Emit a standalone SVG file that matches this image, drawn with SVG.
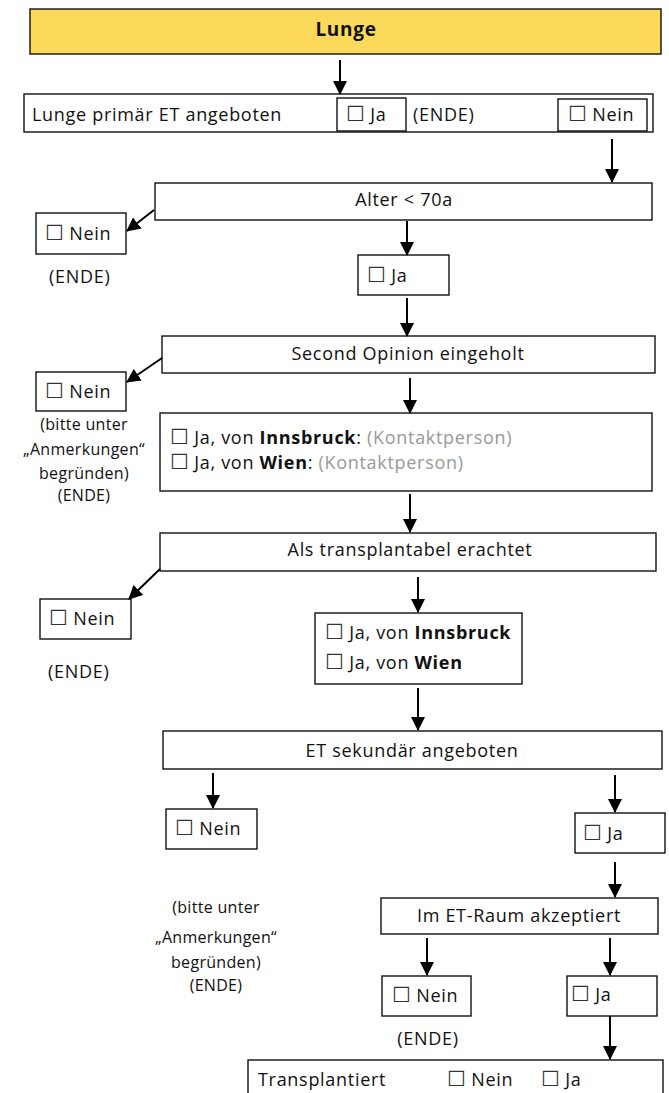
<svg xmlns="http://www.w3.org/2000/svg" width="669" height="1093" viewBox="0 0 669 1093">
<style>
.box{fill:#fff;stroke:#111;stroke-width:1.4}
.title{fill:#FCD95B;stroke:#111;stroke-width:1.4}
text{font-family:"Open Sans","DejaVu Sans",sans-serif;font-size:18px;fill:#111;letter-spacing:0.7px}
.s{font-size:16px;letter-spacing:0.3px}
.c{text-anchor:middle}
.b{font-weight:bold}
.g{fill:#999}
.cb{font-family:"DejaVu Sans",sans-serif;font-size:21px;letter-spacing:0;fill:#333}
#connectors line{stroke:#000;stroke-width:2;marker-end:url(#ah)}
</style>
<defs>
<marker id="ah" markerUnits="userSpaceOnUse" markerWidth="14" markerHeight="14" refX="13" refY="7" orient="auto">
<path d="M0,0 L14,7 L0,14 z" fill="#000"/>
</marker>
</defs>
<g id="n-title"><rect class="title" x="30" y="9" width="631" height="45"/><text class="c b" x="346" y="36" style="font-size:19px">Lunge</text></g>
<g id="n-primaer"><rect class="box" x="24" y="94" width="629" height="38"/><text x="32" y="121">Lunge primär ET angeboten</text>
<rect class="box" x="337" y="98" width="69" height="33"/><text x="346" y="121"><tspan class="cb">☐</tspan> Ja</text>
<text x="413" y="121">(ENDE)</text>
<rect class="box" x="558" y="99" width="89" height="32"/><text x="568" y="121"><tspan class="cb">☐</tspan> Nein</text></g>
<g id="n-alter"><rect class="box" x="155" y="183" width="497" height="37"/><text class="c" x="404" y="206">Alter &lt; 70a</text></g>
<g id="n-alter-nein"><rect class="box" x="36" y="213" width="90" height="41"/><text x="45" y="240"><tspan class="cb">☐</tspan> Nein</text><text x="49" y="283">(ENDE)</text></g>
<g id="n-alter-ja"><rect class="box" x="358" y="255" width="91" height="40"/><text x="367" y="282"><tspan class="cb">☐</tspan> Ja</text></g>
<g id="n-second"><rect class="box" x="162" y="336" width="493" height="37"/><text class="c" x="408" y="360">Second Opinion eingeholt</text></g>
<g id="n-second-nein"><rect class="box" x="36" y="372" width="90" height="39"/><text x="45" y="398"><tspan class="cb">☐</tspan> Nein</text>
<text class="s c" x="84" y="430">(bitte unter</text><text class="s c" x="84" y="455">„Anmerkungen“</text><text class="s c" x="84" y="479">begründen)</text><text class="s c" x="84" y="501">(ENDE)</text></g>
<g id="n-second-ja"><rect class="box" x="160" y="413" width="492" height="78"/>
<text x="170" y="444"><tspan class="cb">☐</tspan> Ja, von <tspan class="b">Innsbruck</tspan>: <tspan class="g">(Kontaktperson)</tspan></text>
<text x="170" y="469"><tspan class="cb">☐</tspan> Ja, von <tspan class="b">Wien</tspan>: <tspan class="g">(Kontaktperson)</tspan></text></g>
<g id="n-als"><rect class="box" x="160" y="533" width="496" height="38"/><text class="c" x="410" y="556">Als transplantabel erachtet</text></g>
<g id="n-als-nein"><rect class="box" x="40" y="599" width="91" height="40"/><text x="49" y="625"><tspan class="cb">☐</tspan> Nein</text><text x="48" y="678">(ENDE)</text></g>
<g id="n-als-ja"><rect class="box" x="315" y="613" width="207" height="71"/>
<text x="325" y="639"><tspan class="cb">☐</tspan> Ja, von <tspan class="b">Innsbruck</tspan></text>
<text x="325" y="669"><tspan class="cb">☐</tspan> Ja, von <tspan class="b">Wien</tspan></text></g>
<g id="n-et"><rect class="box" x="163" y="731" width="499" height="38"/><text class="c" x="412" y="757">ET sekundär angeboten</text></g>
<g id="n-et-nein"><rect class="box" x="166" y="809" width="91" height="40"/><text x="175" y="835"><tspan class="cb">☐</tspan> Nein</text>
<text class="s c" x="216" y="913">(bitte unter</text><text class="s c" x="216" y="943">„Anmerkungen“</text><text class="s c" x="216" y="968">begründen)</text><text class="s c" x="216" y="991">(ENDE)</text></g>
<g id="n-et-ja"><rect class="box" x="575" y="813" width="90" height="40"/><text x="583" y="840"><tspan class="cb">☐</tspan> Ja</text></g>
<g id="n-raum"><rect class="box" x="381" y="898" width="277" height="36"/><text class="c" x="519" y="922">Im ET-Raum akzeptiert</text></g>
<g id="n-raum-nein"><rect class="box" x="382" y="976" width="89" height="40"/><text x="392" y="1002"><tspan class="cb">☐</tspan> Nein</text><text class="c" x="428" y="1045">(ENDE)</text></g>
<g id="n-raum-ja"><rect class="box" x="567" y="976" width="90" height="40"/><text x="571" y="1001"><tspan class="cb">☐</tspan> Ja</text></g>
<g id="n-transplantiert"><rect class="box" x="248" y="1060" width="415" height="45"/><text x="258" y="1086">Transplantiert</text><text x="447" y="1086"><tspan class="cb">☐</tspan> Nein</text><text x="541" y="1086"><tspan class="cb">☐</tspan> Ja</text></g>
<g id="connectors">
<line x1="340" y1="60" x2="340" y2="94"/>
<line x1="612" y1="139" x2="612" y2="182"/>
<line x1="154" y1="210" x2="127" y2="231"/>
<line x1="407" y1="221" x2="407" y2="255"/>
<line x1="407" y1="298" x2="407" y2="336"/>
<line x1="162" y1="358" x2="127" y2="382"/>
<line x1="410" y1="378" x2="410" y2="413"/>
<line x1="410" y1="494" x2="410" y2="532"/>
<line x1="160" y1="569" x2="129" y2="599"/>
<line x1="418" y1="577" x2="418" y2="612"/>
<line x1="418" y1="688" x2="418" y2="730"/>
<line x1="213" y1="773" x2="213" y2="808"/>
<line x1="615" y1="775" x2="615" y2="812"/>
<line x1="615" y1="862" x2="615" y2="897"/>
<line x1="427" y1="938" x2="427" y2="975"/>
<line x1="610" y1="938" x2="610" y2="975"/>
<line x1="610" y1="1016" x2="610" y2="1059"/>
</g>
</svg>
